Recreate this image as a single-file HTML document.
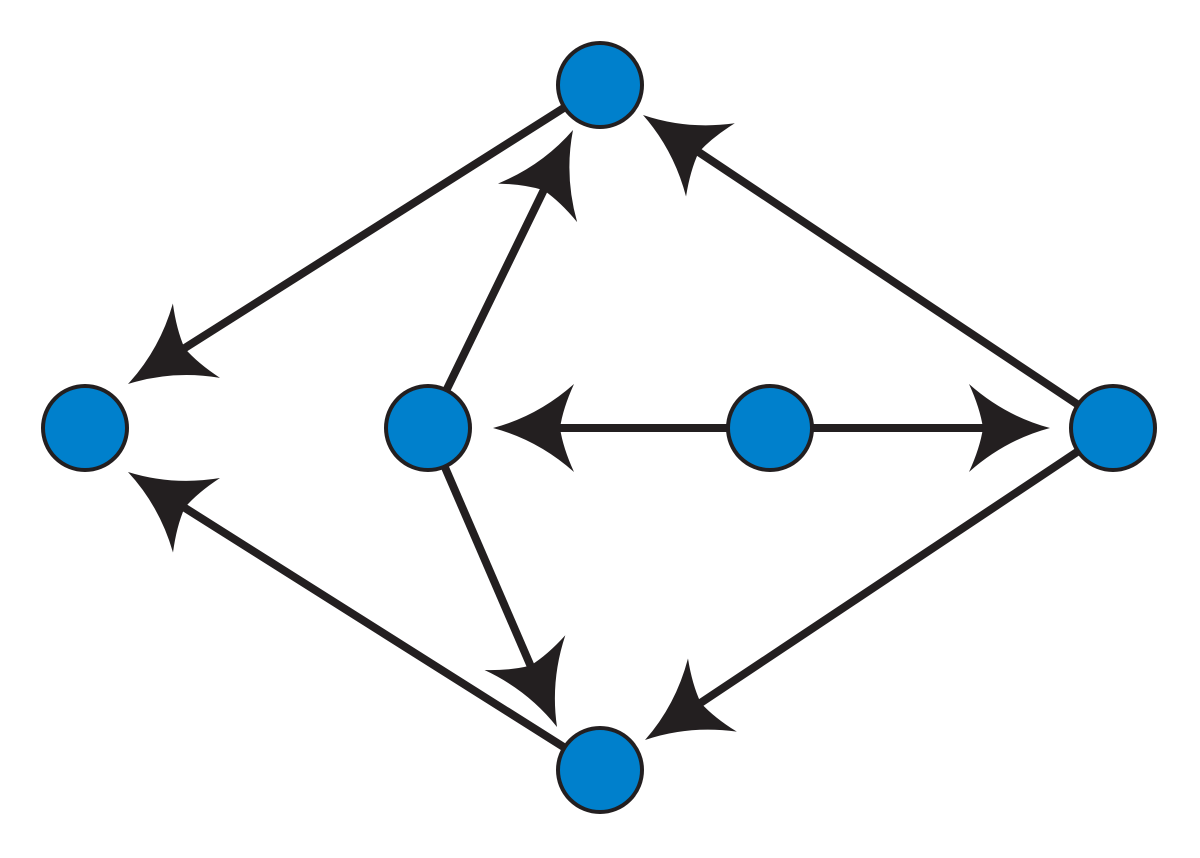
<!DOCTYPE html>
<html><head><meta charset="utf-8"><style>html,body{margin:0;padding:0;background:#fff}svg{display:block}</style></head>
<body>
<svg id="s" width="1200" height="858" viewBox="0 0 1200 858" xmlns="http://www.w3.org/2000/svg"></svg>
<script>
const N={top:[600,85],left:[85,428],cl:[428,428],c:[770,428],right:[1113,428],bot:[600,770]};
const E=[["top","left",[128,384]],["bot","left",[128,472]],["cl","top",[573,130]],["right","top",[643,115]],
["c","cl",[493,428]],["c","right",[1050,428]],["cl","bot",[557,727]],["right","bot",[645,740]]];
let h="";
for(const [a,b,t] of E){
  const s=N[a];const dx=t[0]-s[0],dy=t[1]-s[1];const L=Math.hypot(dx,dy);const ux=dx/L,uy=dy/L;
  const ex=t[0]-ux*60,ey=t[1]-uy*60;
  h+=`<line x1="${s[0]}" y1="${s[1]}" x2="${ex}" y2="${ey}" stroke="#231f20" stroke-width="8"/>`;
  const ang=Math.atan2(dy,dx)*180/Math.PI;
  h+=`<path transform="translate(${t[0]},${t[1]}) rotate(${ang})" d="M0,0 Q-45,-12 -81,-44 Q-70,-20 -67,0 Q-70,20 -81,44 Q-45,12 0,0Z" fill="#231f20"/>`;
}
for(const k in N){h+=`<circle cx="${N[k][0]}" cy="${N[k][1]}" r="42" fill="#0080cc" stroke="#231f20" stroke-width="4"/>`;}
document.getElementById("s").innerHTML=h;
</script>
</body></html>
